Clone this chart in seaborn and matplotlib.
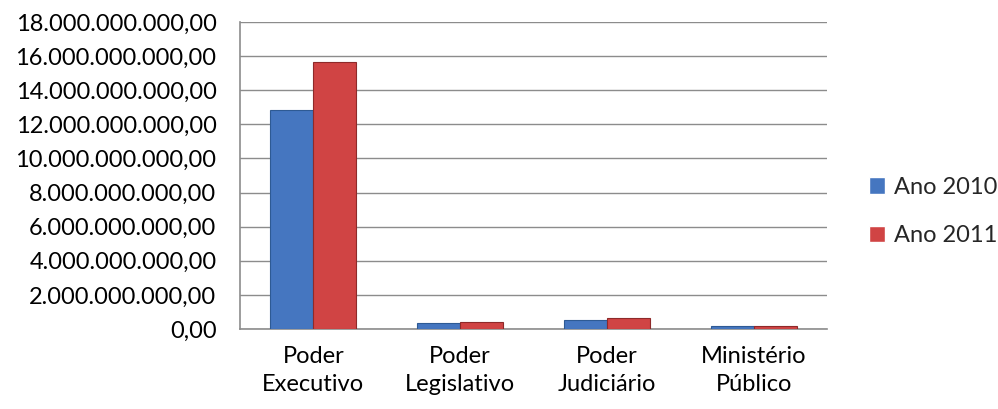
import pandas as pd
import seaborn as sns
import matplotlib.pyplot as plt
from matplotlib.ticker import FuncFormatter, MultipleLocator

# Valores (R$)
categorias = ["Poder\nExecutivo", "Poder\nLegislativo", "Poder\nJudiciário", "Ministério\nPúblico"]
ano_2010 = [12.84e9, 0.35e9, 0.53e9, 0.18e9]
ano_2011 = [15.64e9, 0.41e9, 0.64e9, 0.18e9]
series = ["Ano 2010", "Ano 2011"]
cores = ["#4576C0", "#D04444"]
bordas = ["#2E5A94", "#8E2A2A"]


def formato_br(v, pos):
    """Formata numero no padrao brasileiro: 18.000.000.000,00"""
    s = f"{v:,.2f}"
    return s.replace(",", "X").replace(".", ",").replace("X", ".")


df = pd.DataFrame({
    "categoria": categorias * 2,
    "valor": ano_2010 + ano_2011,
    "serie": [series[0]] * 4 + [series[1]] * 4,
})

sns.set_style("white")
plt.rcParams["font.family"] = ["Lato", "DejaVu Sans"]

fig = plt.figure(figsize=(9.98, 4.09), dpi=100)
ax = fig.add_axes([0.2405, 0.1956, 0.5882, 0.7506])

sns.barplot(data=df, x="categoria", y="valor", hue="serie", palette=cores,
            width=0.585, saturation=1, ax=ax, zorder=3)

for cont, borda in zip(ax.containers, bordas):
    for barra in cont:
        barra.set_edgecolor(borda)
        barra.set_linewidth(0.8)

ax.set_ylim(0, 18e9)
ax.yaxis.set_major_locator(MultipleLocator(2e9))
ax.yaxis.set_major_formatter(FuncFormatter(formato_br))
ax.grid(axis="y", color="#8C8C8C", linewidth=1, zorder=0)
ax.set_axisbelow(True)
ax.set_xlabel("")
ax.set_ylabel("")
ax.tick_params(axis="y", labelsize=17, colors="black", length=0, pad=17)
ax.tick_params(axis="x", labelsize=17, colors="black", length=0, pad=12)
for t in ax.get_xticklabels():
    t.set_linespacing(1.45)

for lado in ["top", "right"]:
    ax.spines[lado].set_visible(False)
for lado in ["left", "bottom"]:
    ax.spines[lado].set_color("#8C8C8C")
    ax.spines[lado].set_linewidth(1.2)

leg = ax.legend(loc="center left", bbox_to_anchor=(1.072, 0.383), frameon=False,
                fontsize=17, labelspacing=1.15, handlelength=0.68,
                handleheight=0.68, handletextpad=0.35, borderpad=0,
                borderaxespad=0)

fig.savefig("out.png", dpi=100)
